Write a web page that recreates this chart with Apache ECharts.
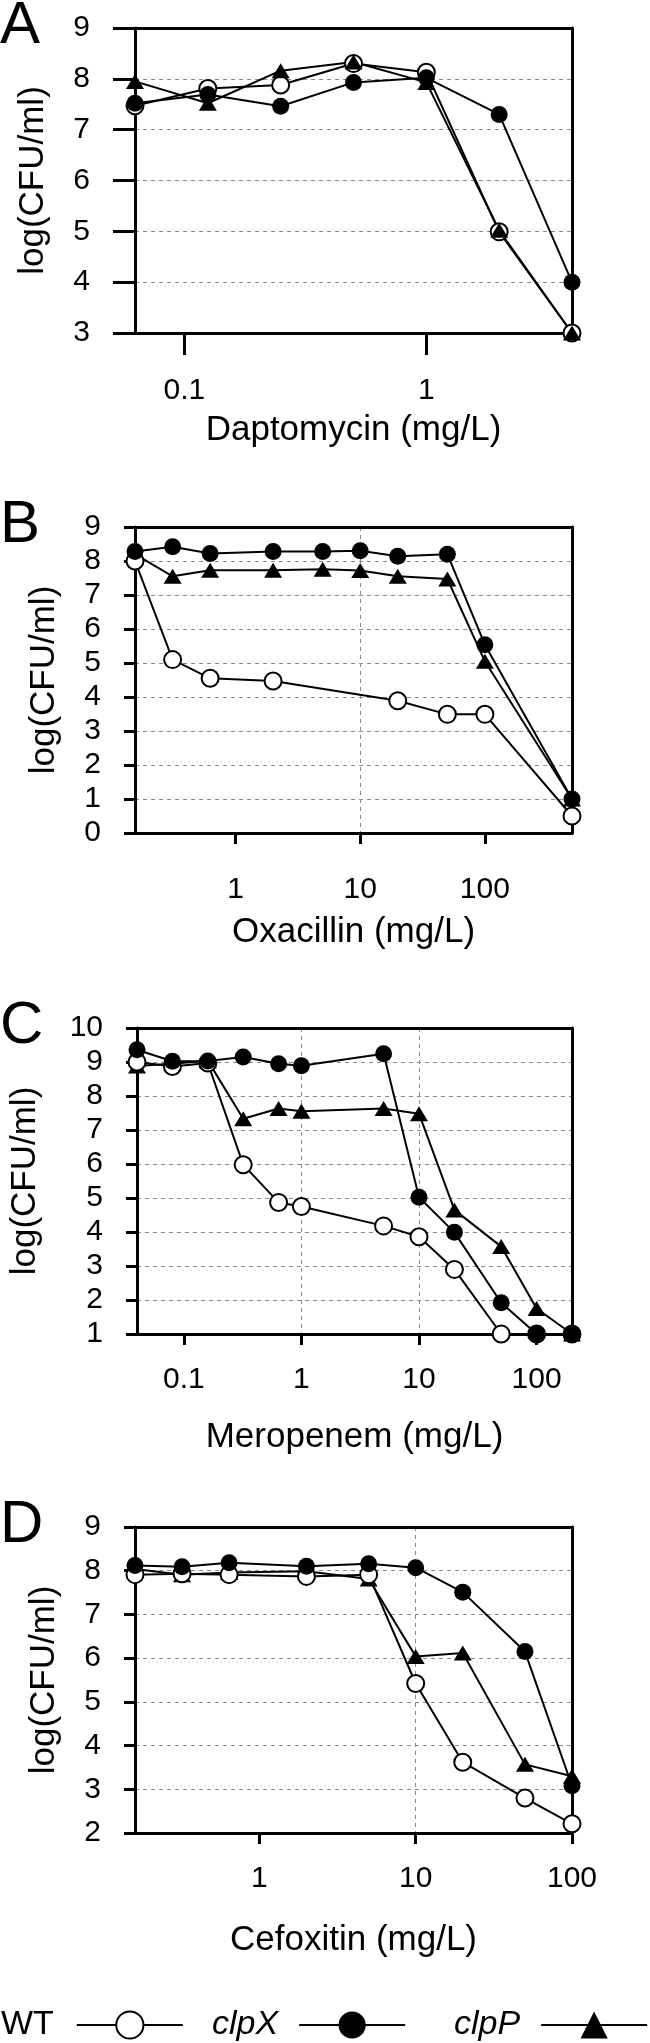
<!DOCTYPE html>
<html><head><meta charset="utf-8">
<script src="https://cdn.jsdelivr.net/npm/echarts@6/dist/echarts.min.js"></script>
<style>html,body{margin:0;padding:0;background:#fff}#c{width:650px;height:2043px}</style>
</head><body><div id="c"></div>
<script>
// ---------- data ----------
const panelLetters = ['A', 'B', 'C', 'D'];
const xTitles = ['Daptomycin (mg/L)', 'Oxacillin (mg/L)', 'Meropenem (mg/L)', 'Cefoxitin (mg/L)'];
const yTitle = 'log(CFU/ml)';
const seriesNames = ['WT', 'clpX', 'clpP'];

const doseA = [0.0625, 0.125, 0.25, 0.5, 1, 2, 4];
const wtA   = [7.47, 7.81, 7.88, 8.3, 8.13, 4.99, 3.0];
const clpXA = [7.52, 7.69, 7.46, 7.93, 8.02, 7.3, 4.0];
const clpPA = [7.95, 7.52, 8.16, 8.33, 7.93, 5.02, 3.0];
const xTicksA = [0.1, 1];
const xRangeA = [0.0625, 4];
const yRangeA = [3, 9];

const doseB = [0.156, 0.3125, 0.625, 2, 5, 10, 20, 50, 100, 500];
const wtB   = [8.0, 5.1, 4.55, 4.47, null, null, 3.89, 3.49, 3.49, 0.5];
const clpXB = [8.28, 8.42, 8.22, 8.28, 8.28, 8.3, 8.14, 8.2, 5.54, 1.0];
const clpPB = [8.2, 7.55, 7.73, 7.73, 7.76, 7.72, 7.55, 7.47, 5.05, 1.0];
const xTicksB = [1, 10, 100];
const xRangeB = [0.156, 500];
const yRangeB = [0, 9];

const doseC = [0.04, 0.08, 0.16, 0.32, 0.64, 1, 5, 10, 20, 50, 100, 200];
const wtC   = [9.0, 8.87, 8.97, 5.98, 4.87, 4.75, 4.18, 3.86, 2.9, 1.0, 1.0, 1.0];
const clpXC = [9.36, 9.02, 9.03, 9.15, 8.95, 8.89, 9.24, 5.02, 3.99, 1.92, 1.0, 1.0];
const clpPC = [8.88, 8.95, 9.04, 7.33, 7.63, 7.55, 7.63, 7.48, 4.65, 3.57, 1.75, 1.0];
const xTicksC = [0.1, 1, 10, 100];
const xRangeC = [0.04, 200];
const yRangeC = [1, 10];

const doseD = [0.16, 0.32, 0.64, 2, 5, 10, 20, 50, 100];
const wtD   = [7.91, 7.93, 7.91, 7.87, 7.91, 5.42, 3.62, 2.8, 2.21];
const clpXD = [8.12, 8.09, 8.18, 8.1, 8.16, 8.07, 7.51, 6.15, 3.08];
const clpPD = [8.04, 7.91, 7.96, 7.99, 7.81, 6.04, 6.12, 3.57, 3.3];
const xTicksD = [1, 10, 100];
const xRangeD = [0.16, 100];
const yRangeD = [2, 9];

// ---------- layout / style ----------
const FONT = "'Liberation Sans', Arial, Helvetica, sans-serif";
const panels = [
  {dose: doseA, wt: wtA, clpX: clpXA, clpP: clpPA, ticks: xTicksA, xr: xRangeA, yr: yRangeA},
  {dose: doseB, wt: wtB, clpX: clpXB, clpP: clpPB, ticks: xTicksB, xr: xRangeB, yr: yRangeB},
  {dose: doseC, wt: wtC, clpX: clpXC, clpP: clpPC, ticks: xTicksC, xr: xRangeC, yr: yRangeC},
  {dose: doseD, wt: wtD, clpX: clpXD, clpP: clpPD, ticks: xTicksD, xr: xRangeD, yr: yRangeD}
];
const layout = [
  {top: 28,   h: 305, tick: 22, lmx: 43, lmy: 45, ngx: 80, ngy: 84, pOnTop: true},
  {top: 527,  h: 306, tick: 11, lmx: 42, lmy: 34, ngx: 82, ngy: 73},
  {top: 1028, h: 306, tick: 11, lmx: 31, lmy: 34, ngx: 86, ngy: 94},
  {top: 1527, h: 306, tick: 11, lmx: 31, lmy: 34, ngx: 90, ngy: 73}
];
const GRID_LEFT = 135, GRID_W = 437;

function pts(dose, vals) {
  return dose.map((d, i) => vals[i] == null ? null : [d, vals[i]]).filter(Boolean);
}
const fmt = v => String(+(+v).toPrecision(6));
const dashed = {show: true, showMinLine: false, showMaxLine: false,
  lineStyle: {color: '#8a8a8a', width: 1, type: [4, 4]}};
const thickLine = {show: true, onZero: false, lineStyle: {color: '#000', width: 3}};

const grid = [], xAxis = [], yAxis = [], series = [], graphic = [];
panels.forEach((p, i) => {
  const L = layout[i];
  grid.push({left: GRID_LEFT, top: L.top, width: GRID_W, height: L.h, show: false});
  xAxis.push({
    type: 'log', logBase: 10, gridIndex: i, min: p.xr[0], max: p.xr[1], position: 'bottom',
    name: xTitles[i], nameLocation: 'middle', nameGap: L.ngx,
    nameTextStyle: {fontSize: 35, fontFamily: FONT, color: '#000'},
    axisLine: thickLine,
    axisTick: {show: true, length: L.tick, lineStyle: {color: '#000', width: 3}, customValues: p.ticks},
    axisLabel: {fontSize: 30, fontFamily: FONT, color: '#000', margin: L.lmx, customValues: p.ticks, formatter: fmt},
    splitLine: dashed,
    minorTick: {show: false}, minorSplitLine: {show: false}
  });
  yAxis.push({
    type: 'value', gridIndex: i, min: p.yr[0], max: p.yr[1], interval: 1, position: 'left',
    name: yTitle, nameLocation: 'middle', nameGap: L.ngy, nameRotate: 90,
    nameTextStyle: {fontSize: 35, fontFamily: FONT, color: '#000'},
    axisLine: thickLine,
    axisTick: {show: true, length: L.tick, lineStyle: {color: '#000', width: 3}},
    axisLabel: {fontSize: 30, fontFamily: FONT, color: '#000', margin: L.lmy},
    splitLine: dashed
  });
  graphic.push({type: 'text', x: 0, y: L.top - 2,
    style: {text: panelLetters[i], font: '60px ' + FONT, fill: '#000', verticalAlign: 'middle', align: 'left'}});
});
// frame axes (top and right edges of each plot box)
panels.forEach((p, i) => {
  xAxis.push({type: 'log', logBase: 10, gridIndex: i, min: p.xr[0], max: p.xr[1], position: 'top',
    axisLine: thickLine, axisTick: {show: false}, axisLabel: {show: false}, splitLine: {show: false}});
  yAxis.push({type: 'value', gridIndex: i, min: p.yr[0], max: p.yr[1], position: 'right',
    axisLine: thickLine, axisTick: {show: false}, axisLabel: {show: false}, splitLine: {show: false}});
});
panels.forEach((p, i) => {
  const L = layout[i];
  const common = {type: 'line', xAxisIndex: i, yAxisIndex: i, clip: false, animation: false, z: 4,
    lineStyle: {color: '#000', width: 2}, emphasis: {disabled: true}};
  const sP = Object.assign({}, common, {name: 'clpP', data: pts(p.dose, p.clpP),
    symbol: 'triangle', symbolSize: [18, 15], itemStyle: {color: '#000'}});
  const sW = Object.assign({}, common, {name: 'WT', data: pts(p.dose, p.wt),
    symbol: 'circle', symbolSize: 17, itemStyle: {color: '#fff', borderColor: '#000', borderWidth: 2}});
  const sX = Object.assign({}, common, {name: 'clpX', data: pts(p.dose, p.clpX),
    symbol: 'circle', symbolSize: 17, itemStyle: {color: '#000'}});
  if (L.pOnTop) series.push(sW, sP, sX); else series.push(sP, sW, sX);
});

const legendBase = {orient: 'horizontal', align: 'right', padding: 0, itemWidth: 106, itemHeight: 34,
  selectedMode: false, top: 2008,
  formatter: n => (n === 'WT' ? '{n|' : '{i|') + n + '}',
  textStyle: {color: '#000', fontFamily: FONT, fontSize: 34,
    rich: {n: {fontSize: 34, fontFamily: FONT, color: '#000', padding: [0, 18, 0, 0]},
           i: {fontSize: 34, fontFamily: FONT, color: '#000', fontStyle: 'italic', padding: [0, 16, 0, 0]}}}
};
const legend = [
  Object.assign({}, legendBase, {data: ['WT'], left: 1}),
  Object.assign({}, legendBase, {data: ['clpX'], left: 212}),
  Object.assign({}, legendBase, {data: ['clpP'], left: 454})
];

const chart = echarts.init(document.getElementById('c'), null, {renderer: 'canvas'});
chart.setOption({animation: false, backgroundColor: '#fff', grid, xAxis, yAxis, series, legend, graphic});
</script>
</body></html>
